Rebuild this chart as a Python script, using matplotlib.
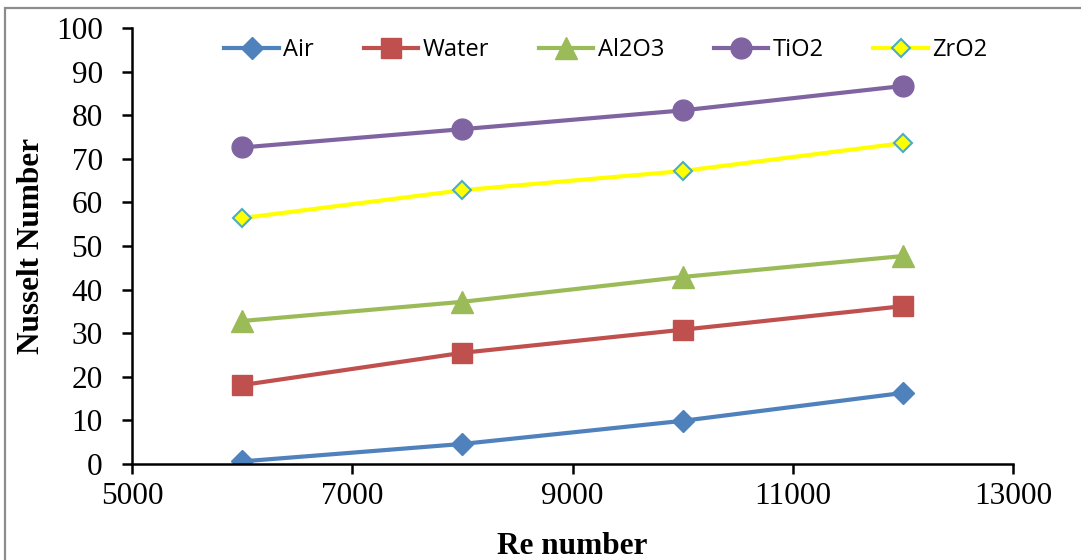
import numpy as np
import matplotlib
matplotlib.use("Agg")
import matplotlib.pyplot as plt
from matplotlib.patches import Rectangle

# data
re_number = [6000, 8000, 10000, 12000]
nu_air = [0.6, 4.6, 9.9, 16.3]
nu_water = [18.1, 25.5, 30.8, 36.2]
nu_al2o3 = [32.8, 37.2, 42.9, 47.7]
nu_tio2 = [72.6, 76.8, 81.1, 86.7]
nu_zro2 = [56.4, 62.8, 67.2, 73.6]

x_ticks = [5000, 7000, 9000, 11000, 13000]
y_ticks = list(range(0, 101, 10))

serif = "Liberation Serif"

fig = plt.figure(figsize=(10.81, 5.60), dpi=100)
ax = fig.add_axes([132 / 1081, 1 - 464 / 560, 881 / 1081, 436 / 560])

# grey frame on the left/top edge of the picture
fig.patches.append(Rectangle((5 / 1081, -0.05), 1.2, 1 - 8 / 560 + 0.05,
                             transform=fig.transFigure, fill=False,
                             edgecolor="#8c8c8c", linewidth=1.6))

lw = 3.0
ax.plot(re_number, nu_air, color="#4F81BD", lw=lw, marker="D", ms=11,
        label="Air")
ax.plot(re_number, nu_water, color="#C0504D", lw=lw, marker="s", ms=15,
        label="Water")
ax.plot(re_number, nu_al2o3, color="#9BBB59", lw=lw, marker="^", ms=16,
        label="Al2O3")
ax.plot(re_number, nu_tio2, color="#8064A2", lw=lw, marker="o", ms=15,
        label="TiO2")
ax.plot(re_number, nu_zro2, color="#FFFF00", lw=lw, marker="D", ms=9,
        markerfacecolor="#FFFF00", markeredgecolor="#4BACC6",
        markeredgewidth=1.5, label="ZrO2")

ax.set_xlim(5000, 13000)
ax.set_ylim(0, 100)
ax.set_xticks(x_ticks)
ax.set_yticks(y_ticks)

for side in ["top", "right"]:
    ax.spines[side].set_visible(False)
for side in ["left", "bottom"]:
    ax.spines[side].set_linewidth(1.8)
    ax.spines[side].set_color("black")

ax.tick_params(axis="both", direction="out", length=7, width=1.8,
               labelsize=22.5)
ax.tick_params(axis="y", pad=14)
ax.tick_params(axis="x", pad=6)
for lab in ax.get_xticklabels() + ax.get_yticklabels():
    lab.set_fontfamily(serif)

ax.set_xlabel("Re number", fontfamily=serif, fontsize=22.5, fontweight="bold")
ax.set_ylabel("Nusselt Number", fontfamily=serif, fontsize=22.5,
              fontweight="bold")
ax.xaxis.set_label_coords(0.5, -0.155)
ax.yaxis.set_label_coords(-0.098, 0.5)

ax.legend(loc="center", bbox_to_anchor=(606 / 1081, 1 - 50 / 560),
          bbox_transform=fig.transFigure, ncol=5, frameon=False,
          prop={"family": "Open Sans", "size": 17},
          handlelength=2.3, handletextpad=0.2, columnspacing=2.1)

fig.savefig("out.png", dpi=100)
